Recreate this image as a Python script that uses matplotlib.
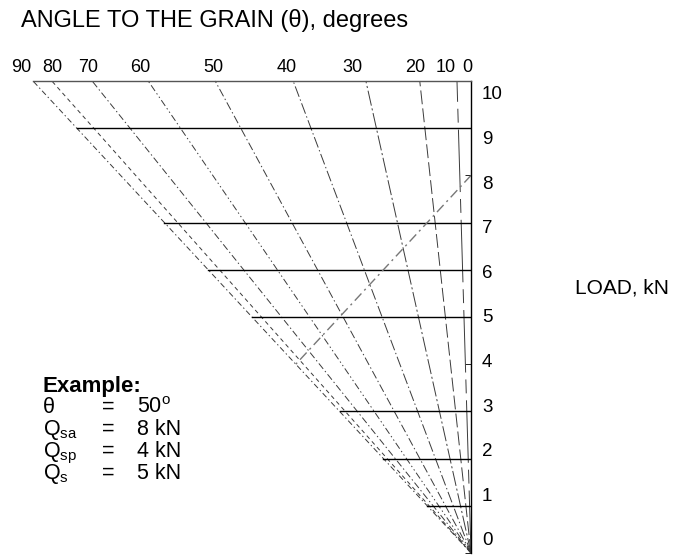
import matplotlib
matplotlib.use("Agg")
import matplotlib.pyplot as plt

plt.rcParams['font.family'] = ['Liberation Sans', 'DejaVu Sans']
plt.rcParams['mathtext.fontset'] = 'custom'
plt.rcParams['mathtext.rm'] = 'Liberation Sans'
plt.rcParams['lines.scale_dashes'] = False

# angle lines: horizontal reach at load 10, measured from the 0 deg (load) axis
angles = [90, 80, 70, 60, 50, 40, 30, 20, 10]
reach_at_10 = [10.0, 9.57, 8.65, 7.37, 5.84, 4.06, 2.40, 1.17, 0.32]
angle_labels = ['90', '80', '70', '60', '50', '40', '30', '20', '10', '0']

# horizontal load lines (kN) and the load axis labels
load_levels = [9, 7, 6, 5, 3, 2, 1]
load_ticks = list(range(0, 11))

# worked example
ex_theta = 50
ex_qsa = 8
ex_qsp = 4
ex_qs = 5

line_styles = [
    (0, (4, 2, 1, 2)),
    (0, (3, 2.5)),
    (0, (5, 2, 1, 2)),
    (0, (5, 2, 1, 2, 1, 2)),
    (0, (6, 2, 1, 2)),
    (0, (8, 2, 1, 2)),
    (0, (11, 2, 1.5, 2)),
    (0, (10, 3)),
    (0, (45, 5, 10, 5)),
]
label_nudge_px = [-12, 0, -4, -8, -2, -6, -13, -5, -11, -4]

fig = plt.figure(figsize=(6.75, 5.56), dpi=100)
ax = fig.add_axes([33 / 675, 1 - 553 / 556, 438 / 675, 472 / 556])
ax.set_xlim(-10, 0)
ax.set_ylim(0, 10)

full = reach_at_10[0]
# angle lines from the origin up to the top border
for r, ls in zip(reach_at_10, line_styles):
    ax.plot([0, -r], [0, 10], color='#3a3a3a', lw=0.7, linestyle=ls,
            clip_on=False)

# horizontal load lines, from the 90 deg line to the load axis
for lv in load_levels:
    ax.plot([-lv * full / 10, 0], [lv, lv], color='black', lw=1.0)

# example construction line: Qsa on the load axis to Qsp on the 90 deg line
ax.plot([0, -ex_qsp * full / 10], [ex_qsa, ex_qsp], color='#777777', lw=1.0,
        linestyle=(0, (7, 3, 1.5, 3)))

for side in ['left', 'bottom']:
    ax.spines[side].set_visible(False)
ax.spines['top'].set_color('#555555')
ax.spines['top'].set_linewidth(1.0)
ax.spines['right'].set_linewidth(1.0)

ax.set_xticks([])
ax.yaxis.tick_right()
ax.set_yticks([0.3 + 0.945 * v for v in load_ticks])
ax.set_yticklabels([str(v) for v in load_ticks], fontsize=13.5)
ax.set_yticks(load_ticks, minor=True)
ax.tick_params(axis='y', which='major', length=0, pad=8)
ax.tick_params(axis='y', which='minor', direction='in', length=4,
               right=True, left=False)

# angle labels along the top border
tops = [-r for r in reach_at_10] + [0]
for x, lab, dx in zip(tops, angle_labels, label_nudge_px):
    ax.annotate(lab, xy=(x, 10), xytext=(dx * 0.72, 9.5),
                textcoords='offset points', ha='center', va='center',
                fontsize=13, annotation_clip=False)

fig.text(21 / 675, 1 - 21 / 556, 'ANGLE TO THE GRAIN (\u03b8), degrees',
         fontsize=17, ha='left', va='center')
fig.text(575 / 675, 1 - 288 / 556, 'LOAD, kN', fontsize=15,
         ha='left', va='center')

# example block
rows = [
    ('\u03b8', '%d$^\\mathrm{o}$' % ex_theta),
    ('Q$_\\mathrm{sa}$', '%d kN' % ex_qsa),
    ('Q$_\\mathrm{sp}$', '%d kN' % ex_qsp),
    ('Q$_\\mathrm{s}$', '%d kN' % ex_qs),
]
fig.text(43 / 675, 1 - 392 / 556, 'Example:', fontsize=16,
         fontweight='bold', va='baseline')
for i, (sym, val) in enumerate(rows):
    yb = 1 - (413 + 22 * i) / 556
    fig.text(43 / 675, yb, sym, fontsize=15.5, va='baseline')
    fig.text(102 / 675, yb, '=', fontsize=15.5, va='baseline')
    fig.text(137 / 675, yb, val, fontsize=15.5, va='baseline')

fig.savefig('out.png', dpi=100)
